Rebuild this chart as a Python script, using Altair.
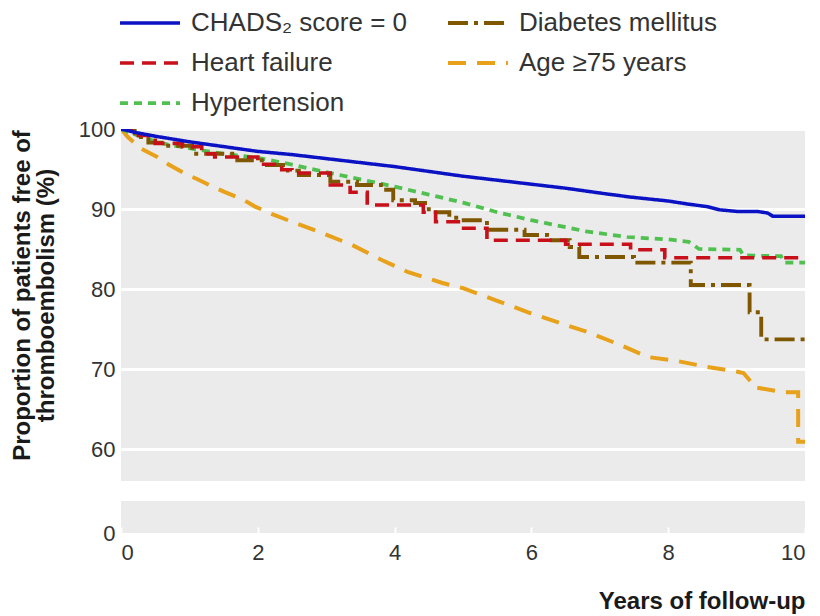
import altair as alt
import pandas as pd

# legend order (column-major): col 1 then col 2
series = ["CHADS₂ score = 0", "Heart failure", "Hypertension", "Diabetes mellitus", "Age ≥75 years"]
colors = ["#0b12c4", "#c8101a", "#50c050", "#7f5700", "#e8a11a"]
dashes = [[1, 0], [14, 8], [8, 6], [20, 6, 4, 6], [18, 11]]
widths = [3.5, 4, 4, 4, 4]

chads_t = [0, 0.25, 0.5, 1, 1.5, 2, 2.5, 3, 3.5, 4, 4.5, 5, 5.5, 6, 6.5, 7, 7.44, 8, 8.3, 8.57, 8.75, 9, 9.3, 9.45, 9.53, 10]
chads_v = [100, 99.5, 99.1, 98.4, 97.8, 97.2, 96.8, 96.3, 95.8, 95.3, 94.7, 94.1, 93.6, 93.1, 92.6, 92.0, 91.5, 91.0, 90.6, 90.3, 89.9, 89.7, 89.7, 89.5, 89.1, 89.1]

diab_t = [0, 0.2, 0.2, 0.4, 0.4, 0.64, 0.64, 1.04, 1.04, 1.7, 1.7, 2.1, 2.1, 2.44, 2.44, 2.6, 2.6, 3.06, 3.06, 3.45, 3.45, 3.8, 3.8, 3.98, 3.98, 4.3, 4.3, 4.5, 4.5, 4.8, 4.8, 4.96, 4.96, 5.35, 5.35, 5.9, 5.9, 6.23, 6.23, 6.56, 6.56, 6.7, 6.7, 7.5, 7.5, 8.33, 8.33, 9.19, 9.19, 9.36, 9.36, 10]
diab_v = [100, 100, 99.0, 99.0, 98.3, 98.3, 97.9, 97.9, 96.9, 96.9, 96.1, 96.1, 95.5, 95.5, 94.8, 94.8, 94.25, 94.25, 93.4, 93.4, 93.0, 93.0, 92.4, 92.4, 91.1, 91.1, 90.75, 90.75, 89.6, 89.6, 88.9, 88.9, 88.6, 88.6, 87.4, 87.4, 86.75, 86.75, 86.1, 86.1, 85.25, 85.25, 84.0, 84.0, 83.3, 83.3, 80.5, 80.5, 77.1, 77.1, 73.7, 73.7]

hf_t = [0, 0.15, 0.15, 0.4, 0.4, 0.5, 0.5, 0.9, 0.9, 1.18, 1.18, 1.37, 1.37, 2.0, 2.0, 2.35, 2.35, 2.5, 2.5, 3.06, 3.06, 3.35, 3.35, 3.6, 3.6, 4.42, 4.42, 4.6, 4.6, 4.96, 4.96, 5.35, 5.35, 6.5, 6.5, 7.45, 7.45, 7.95, 7.95, 10]
hf_v = [100, 100, 99.2, 99.2, 98.6, 98.6, 98.2, 98.2, 97.8, 97.8, 96.9, 96.9, 96.5, 96.5, 95.6, 95.6, 94.9, 94.9, 94.5, 94.5, 93.0, 93.0, 92.1, 92.1, 90.5, 90.5, 89.6, 89.6, 88.4, 88.4, 87.6, 87.6, 86.1, 86.1, 85.6, 85.6, 84.9, 84.9, 83.9, 83.9]

age_t = [0, 0.1, 0.28, 0.53, 0.69, 0.94, 1.11, 1.35, 1.52, 1.77, 1.96, 2.2, 2.5, 2.94, 3.38, 3.82, 4.2, 4.7, 5.0, 5.54, 5.98, 6.42, 6.86, 7.3, 7.7, 8.13, 8.57, 8.95, 9.1, 9.22, 9.24, 9.68, 9.9, 9.9, 10]
age_v = [100, 99.0, 97.6, 96.5, 95.6, 94.4, 93.75, 92.75, 92.1, 91.25, 90.3, 89.4, 88.4, 87.0, 85.5, 83.6, 82.1, 80.75, 80.1, 78.4, 77.0, 75.75, 74.5, 73.0, 71.5, 71.0, 70.25, 69.75, 69.5, 68.3, 67.75, 67.1, 67.1, 60.9, 60.9]

hyp_t = [0, 0.3, 0.6, 1.0, 1.5, 2.0, 2.47, 3.0, 3.5, 4.0, 4.5, 5.0, 5.5, 6.0, 6.23, 6.8, 7.4, 8.0, 8.3, 8.45, 9.05, 9.1, 9.65, 9.7, 10]
hyp_v = [100, 99.0, 98.2, 97.6, 96.9, 96.4, 95.6, 94.6, 93.7, 92.8, 91.8, 90.8, 89.6, 88.6, 88.2, 87.2, 86.5, 86.2, 85.9, 85.0, 84.9, 84.2, 84.1, 83.3, 83.3]

x_ticks = [0, 2, 4, 6, 8, 10]
y_ticks_top = [60, 70, 80, 90, 100]
y_ticks_bottom = [0]

rows = []
for name, ts, vs in [
    ("Age ≥75 years", age_t, age_v),
    ("Hypertension", hyp_t, hyp_v),
    ("Diabetes mellitus", diab_t, diab_v),
    ("Heart failure", hf_t, hf_v),
    ("CHADS₂ score = 0", chads_t, chads_v),
]:
    for i, (t, v) in enumerate(zip(ts, vs)):
        rows.append({"series": name, "t": t, "v": v, "i": i})
df = pd.DataFrame(rows)

FONT = "Liberation Sans"

legend = alt.Legend(title=None, orient="none", legendX=-3, legendY=-126,
                    columns=2, symbolType="stroke", symbolSize=3600,
                    symbolStrokeWidth=4, labelFont=FONT, labelFontSize=26,
                    labelColor="#333333", labelOffset=9, columnPadding=39,
                    rowPadding=0, clipHeight=40, labelLimit=400)

color_enc = alt.Color("series:N", scale=alt.Scale(domain=series, range=colors), legend=legend)
dash_enc = alt.StrokeDash("series:N", scale=alt.Scale(domain=series, range=dashes), legend=legend)
width_enc = alt.StrokeWidth("series:N", scale=alt.Scale(domain=series, range=widths), legend=None)

x_scale = alt.Scale(domain=[0, 10], nice=False)

top = alt.Chart(df).mark_line(clip=True).encode(
    x=alt.X("t:Q", scale=x_scale, axis=None),
    y=alt.Y("v:Q", scale=alt.Scale(domain=[56, 100], nice=False, zero=False),
            axis=alt.Axis(values=y_ticks_top, grid=True, gridColor="white", gridWidth=3,
                          domain=False, ticks=False, labelPadding=6, labelFont=FONT,
                          labelFontSize=22, labelColor="#333333",
                          title=["Proportion of patients free of", "thromboembolism (%)"],
                          titleFont=FONT, titleFontSize=24, titleFontWeight="bold",
                          titleColor="#1a1a1a", titlePadding=20, titleLineHeight=24,
                          titleY=166)),
    color=color_enc,
    strokeDash=dash_enc,
    strokeWidth=width_enc,
    order="i:Q",
).properties(width=684, height=352)

bottom = alt.Chart(df).mark_line(clip=True).encode(
    x=alt.X("t:Q", scale=x_scale,
            axis=alt.Axis(values=x_ticks, grid=False, domain=False, offset=-6, tickSize=6,
                          tickColor="white", tickWidth=2, labelPadding=9, labelFont=FONT,
                          labelFontSize=22, labelColor="#333333", title="Years of follow-up",
                          titleFont=FONT, titleFontSize=24, titleFontWeight="bold",
                          titleColor="#1a1a1a", titleAnchor="end", titlePadding=26)),
    y=alt.Y("v:Q", scale=alt.Scale(domain=[0, 4], nice=False),
            axis=alt.Axis(values=y_ticks_bottom, grid=False, domain=False, ticks=False,
                          labelPadding=6, labelFont=FONT, labelFontSize=22,
                          labelColor="#333333", title=None)),
    color=color_enc,
    strokeDash=dash_enc,
    strokeWidth=width_enc,
    order="i:Q",
).properties(width=684, height=32)

chart = alt.vconcat(top, bottom, spacing=20).properties(
    padding={"left": 2, "top": -5, "right": 5, "bottom": 5},
    background="white",
).configure_view(
    fill="#ebebeb", strokeWidth=0
)

chart.save("out.html", embed_options={"renderer": "svg", "actions": False})
